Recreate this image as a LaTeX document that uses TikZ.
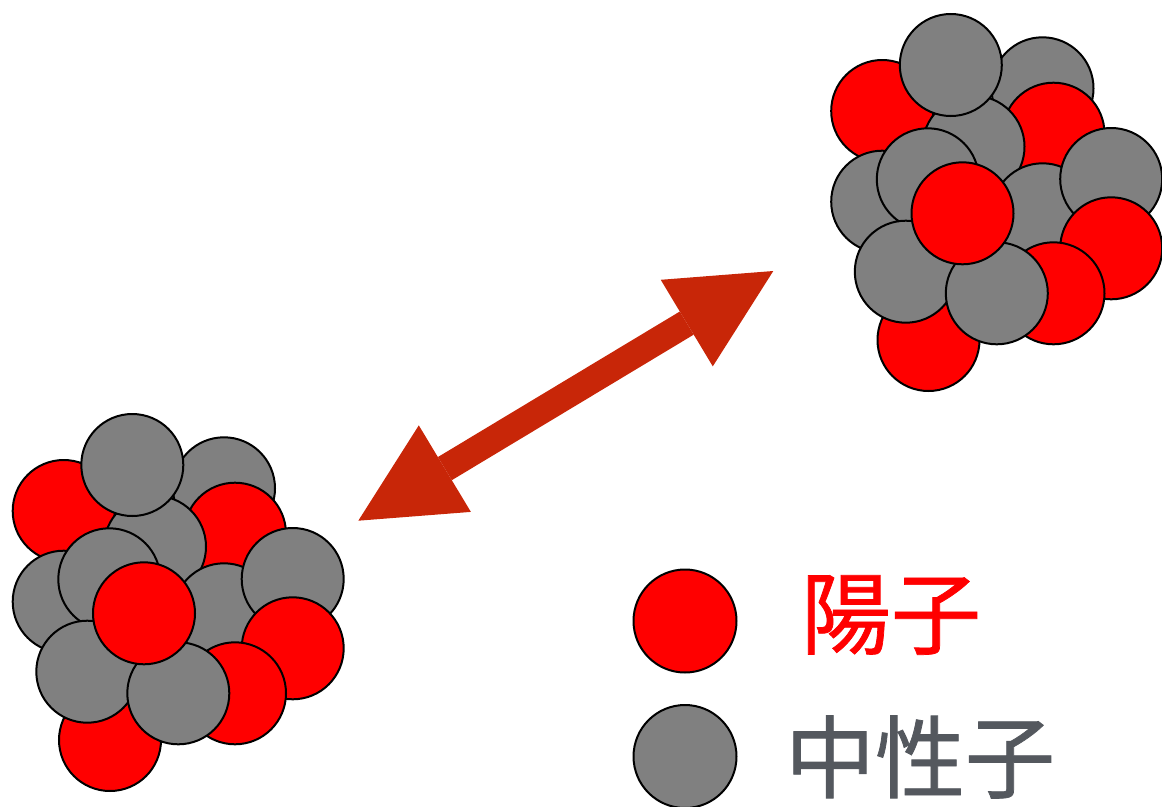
\documentclass[tikz,border=0pt]{standalone}
\usepackage{fontspec}
\newfontfamily\jpfont[FakeBold=0.8]{Noto Sans CJK JP}
\usetikzlibrary{arrows.meta}
\definecolor{protonred}{RGB}{255,0,0}
\definecolor{neutrongray}{RGB}{128,128,128}
\definecolor{arrowred}{RGB}{200,38,8}
\definecolor{labelgray}{RGB}{84,88,94}
\tikzset{
  ball/.style={circle, draw=black, line width=2pt, minimum size=102pt, inner sep=0pt},
  bigtip/.tip={Triangle[length=101pt, width=101pt, line width=0pt]},
  legendtext/.style={font=\jpfont\fontsize{90}{90}\selectfont, inner sep=0pt, anchor=center},
}
% One nucleus: balls listed from back to front, #1 = name prefix, #2 = shift
\newcommand\drawnucleus[2]{%
  \begin{scope}[shift={#2}]
    \foreach \c/\x/\y [count=\k] in {
      neutrongray/224/488.3, protonred/63.7/511, neutrongray/63.7/601.7,
      protonred/235/533.7, neutrongray/155/546.7, neutrongray/132.3/465,
      neutrongray/109.3/579.3, neutrongray/224/614.3, neutrongray/292.7/579,
      protonred/292.7/648.3, protonred/235/693.3, protonred/110/740,
      neutrongray/87.3/671.7, neutrongray/178.3/693.3, protonred/144/613.3}
      \node[ball, fill=\c] (#1\k) at (\x,\y) {};
  \end{scope}}
\begin{document}
\begin{tikzpicture}[x=1pt, y=-1pt]
  \useasboundingbox (0,0) rectangle (1162,806);

  % the two nuclei
  \drawnucleus{A}{(0,0)}
  \drawnucleus{B}{(818.5,-400)}

  % double-headed arrow between them
  \coordinate (tipA) at (358.3,520.7);
  \coordinate (tipB) at (773.3,271);
  \draw[arrowred, line width=27pt, bigtip-bigtip] (tipA) -- (tipB);

  % legend
  \node[ball, fill=protonred, minimum size=103pt] (legP) at (685,621) {};
  \node[ball, fill=neutrongray, minimum size=103pt] (legN) at (685,756.5) {};
  \node[legendtext, text=protonred] (legPtext) at (891,615) {陽子};
  \node[legendtext, text=labelgray] (legNtext) at (920,757) {中性子};
\end{tikzpicture}
\end{document}
